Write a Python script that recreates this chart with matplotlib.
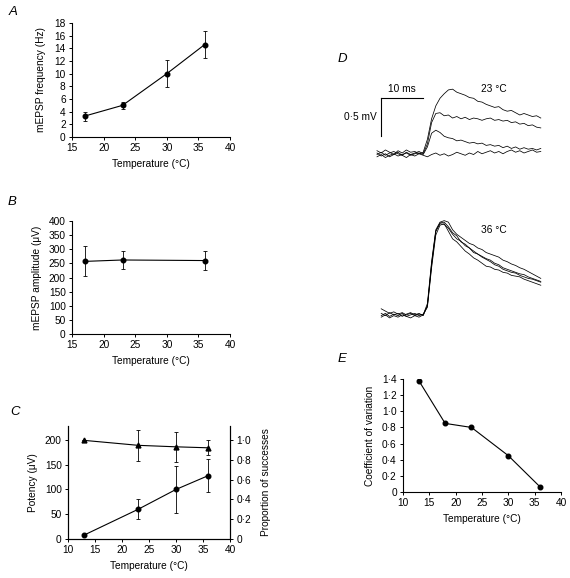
import matplotlib.pyplot as plt
from matplotlib.ticker import FuncFormatter

plt.rcParams['font.family'] = ['Liberation Sans', 'DejaVu Sans']
plt.rcParams['font.size'] = 7.3

# panel A: mEPSP frequency
temp_a = [17, 23, 30, 36]
freq_a = [3.3, 5.0, 10.0, 14.6]
freq_err = [0.7, 0.6, 2.1, 2.1]

# panel B: mEPSP amplitude
temp_b = [17, 23, 36]
amp_b = [257, 262, 260]
amp_err = [53, 33, 35]

# panel C: potency and proportion of successes
temp_c = [13, 23, 30, 36]
potency = [8, 60, 100, 128]
potency_err = [0, 20, 48, 33]
success = [0.995, 0.945, 0.93, 0.92]
success_err = [0, 0.155, 0.15, 0.075]

# panel E: coefficient of variation
temp_e = [13, 18, 23, 30, 36]
cv_e = [1.38, 0.85, 0.80, 0.45, 0.065]

# panel D: example traces (ms, mV)
t23 = list(range(0, 40))
tr23 = [
    [0.03, 0.00, 0.04, 0.01, -0.02, 0.03, 0.00, 0.04, 0.01, 0.02, -0.01, 0.01,
     0.18, 0.45, 0.62, 0.72, 0.78, 0.83, 0.84, 0.80, 0.78, 0.76, 0.73, 0.72, 0.68, 0.67,
     0.64, 0.62, 0.60, 0.61, 0.57, 0.55, 0.56, 0.53, 0.50, 0.52, 0.50, 0.48, 0.49, 0.46],
    [-0.02, 0.01, -0.03, 0.00, 0.02, -0.01, -0.03, 0.01, -0.02, 0.00, 0.02, -0.01,
     0.12, 0.40, 0.52, 0.53, 0.49, 0.50, 0.46, 0.48, 0.45, 0.47, 0.44, 0.46, 0.45, 0.43,
     0.45, 0.46, 0.43, 0.44, 0.42, 0.43, 0.40, 0.41, 0.38, 0.39, 0.36, 0.37, 0.34, 0.33],
    [-0.05, -0.02, -0.06, -0.03, -0.01, -0.04, -0.02, 0.00, -0.03, -0.01, 0.00, -0.02,
     0.08, 0.26, 0.30, 0.27, 0.22, 0.20, 0.19, 0.16, 0.17, 0.15, 0.13, 0.14, 0.12, 0.13,
     0.10, 0.11, 0.09, 0.10, 0.07, 0.09, 0.06, 0.08, 0.05, 0.07, 0.05, 0.06, 0.04, 0.06],
    [0.00, -0.04, -0.01, -0.05, -0.02, 0.01, -0.03, -0.06, -0.02, -0.04, -0.01, -0.03,
     -0.05, -0.02, 0.00, -0.03, -0.01, -0.04, -0.02, 0.01, -0.01, -0.03, 0.00, -0.02,
     0.02, -0.01, 0.01, 0.03, 0.00, 0.02, -0.01, 0.02, 0.04, 0.01, 0.03, 0.00, 0.02,
     0.04, 0.01, 0.02],
]
t36 = list(range(1, 40))
tr36 = [
    [0.08, 0.05, 0.02, 0.04, 0.01, 0.03, 0.00, 0.02, -0.01, 0.01, 0.00,
     0.15, 0.70, 1.12, 1.22, 1.24, 1.22, 1.12, 1.06, 1.02, 0.98, 0.94, 0.92, 0.88, 0.86,
     0.82, 0.80, 0.78, 0.76, 0.72, 0.70, 0.67, 0.65, 0.62, 0.60, 0.57, 0.54, 0.51, 0.48],
    [0.02, -0.01, 0.03, 0.00, 0.02, -0.02, 0.01, 0.03, 0.00, 0.02, -0.01,
     0.12, 0.65, 1.10, 1.21, 1.22, 1.16, 1.08, 1.04, 0.96, 0.93, 0.88, 0.84, 0.80, 0.77,
     0.74, 0.72, 0.68, 0.66, 0.62, 0.60, 0.58, 0.56, 0.54, 0.53, 0.50, 0.48, 0.46, 0.44],
    [-0.01, 0.02, -0.02, 0.01, -0.01, 0.02, -0.02, 0.00, 0.02, -0.01, 0.01,
     0.10, 0.62, 1.05, 1.18, 1.20, 1.10, 1.00, 0.96, 0.90, 0.84, 0.80, 0.75, 0.72, 0.68,
     0.64, 0.63, 0.60, 0.59, 0.56, 0.55, 0.52, 0.51, 0.50, 0.47, 0.45, 0.43, 0.41, 0.39],
    [-0.03, 0.00, -0.04, -0.01, -0.03, 0.00, -0.02, -0.04, -0.01, -0.03, 0.00,
     0.12, 0.68, 1.10, 1.20, 1.19, 1.14, 1.06, 1.00, 0.97, 0.91, 0.88, 0.82, 0.80, 0.76,
     0.73, 0.70, 0.66, 0.64, 0.60, 0.58, 0.56, 0.55, 0.52, 0.50, 0.48, 0.47, 0.45, 0.43],
]
offset36 = -2.13

W, H = 570, 578
fig = plt.figure(figsize=(W / 100, H / 100), dpi=100)


def box(l, r, t, b):
    return [l / W, 1 - b / H, (r - l) / W, (b - t) / H]


def dot(v, pos=None):
    if v == 0:
        return '0'
    return f'{v:.1f}'.replace('.', '·')


def style(ax, right=False):
    ax.spines['top'].set_visible(False)
    if not right:
        ax.spines['right'].set_visible(False)
    for s in ax.spines.values():
        s.set_linewidth(0.8)
    ax.tick_params(direction='out', length=2.5, width=0.7, labelsize=7.3, pad=2)


eb = dict(color='black', lw=0.8, elinewidth=0.6, capsize=1.5, capthick=0.6,
          marker='o', ms=3.3, mfc='black', mec='black')

# A
ax = fig.add_axes(box(72, 230, 23, 137))
ax.errorbar(temp_a, freq_a, yerr=freq_err, **eb)
ax.set_xlim(15, 40)
ax.set_ylim(0, 18)
ax.set_yticks(range(0, 19, 2))
ax.set_xticks(range(15, 41, 5))
ax.set_xlabel('Temperature (°C)', labelpad=4)
ax.set_ylabel('mEPSP frequency (Hz)', labelpad=6)
style(ax)

# B
ax = fig.add_axes(box(72, 230, 221, 334))
ax.errorbar(temp_b, amp_b, yerr=amp_err, **eb)
ax.set_xlim(15, 40)
ax.set_ylim(0, 400)
ax.set_yticks(range(0, 401, 50))
ax.set_xticks(range(15, 41, 5))
ax.set_xlabel('Temperature (°C)', labelpad=4)
ax.set_ylabel('mEPSP amplitude (μV)', labelpad=5)
style(ax)

# C
ax = fig.add_axes(box(68, 230, 426, 539))
ax.errorbar(temp_c, potency, yerr=potency_err, **eb)
ax.set_xlim(10, 40)
ax.set_ylim(0, 228)
ax.set_yticks(range(0, 201, 50))
ax.set_xticks(range(10, 41, 5))
ax.set_xlabel('Temperature (°C)', labelpad=4)
ax.set_ylabel('Potency (μV)', labelpad=5)
style(ax, right=True)
ax2 = ax.twinx()
eb_t = dict(eb, marker='^', ms=3.5)
ax2.errorbar(temp_c, success, yerr=success_err, **eb_t)
ax2.set_ylim(0, 1.14)
ax2.set_yticks([0, 0.2, 0.4, 0.6, 0.8, 1.0])
ax2.yaxis.set_major_formatter(FuncFormatter(dot))
ax2.set_ylabel('Proportion of successes', labelpad=7)
style(ax2, right=True)

# E
ax = fig.add_axes(box(403, 561, 379, 492))
ax.plot(temp_e, cv_e, color='black', lw=0.8, marker='o', ms=3.3)
ax.set_xlim(10, 40)
ax.set_ylim(0, 1.4)
ax.set_yticks([0, 0.2, 0.4, 0.6, 0.8, 1.0, 1.2, 1.4])
ax.yaxis.set_major_formatter(FuncFormatter(dot))
ax.set_xticks(range(10, 41, 5))
ax.set_xlabel('Temperature (°C)', labelpad=4)
ax.set_ylabel('Coefficient of variation', labelpad=5)
style(ax)

# D
ax = fig.add_axes(box(330, 565, 60, 335))
for tr in tr23:
    ax.plot(t23, tr, color='black', lw=0.55)
for tr in tr36:
    ax.plot(t36, [v + offset36 for v in tr], color='black', lw=0.55)
ax.set_xlim(-47 / 4.2, 188 / 4.2)
ax.set_ylim(-182 / 76, 93 / 76)
ax.axis('off')
bar_t0, bar_v0 = 0.95, 0.724
ax.plot([bar_t0, bar_t0 + 10], [bar_v0, bar_v0], color='black', lw=0.8)
ax.plot([bar_t0, bar_t0], [bar_v0, bar_v0 - 0.5], color='black', lw=0.8)
ax.text(bar_t0 + 5, bar_v0 + 0.05, '10 ms', ha='center', va='bottom', fontsize=7.3)
ax.text(bar_t0 - 1, bar_v0 - 0.25, '0·5 mV', ha='right', va='center', fontsize=7.3)
ax.text(27.9, 0.84, '23 °C', ha='center', va='center', fontsize=7.3)
ax.text(27.9, -1.01, '36 °C', ha='center', va='center', fontsize=7.3)

# panel letters
for lab, x, y in [('A', 9, 12), ('B', 8, 202), ('C', 10, 412), ('D', 338, 59), ('E', 338, 359)]:
    fig.text(x / W, 1 - y / H, lab, fontsize=9.5, style='italic', ha='left', va='center')

fig.savefig('out.png', dpi=100)
